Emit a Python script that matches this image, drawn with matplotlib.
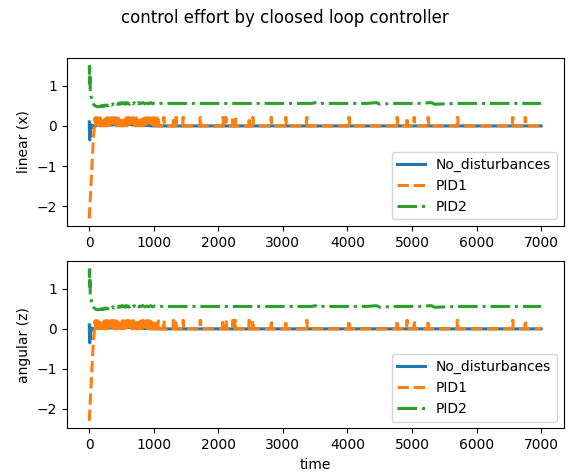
import numpy as np
import matplotlib
matplotlib.use("Agg")
import matplotlib.pyplot as plt

# ---------------- data ----------------
# No_disturbances (blue)
nd_t = [0, 4, 8, 12, 16, 20, 25, 30, 40, 50, 80, 120, 200, 300, 400, 450, 500, 550,
        600, 650, 700, 800, 900, 1000, 1200, 1500, 2000, 3000, 4000, 5000, 6000, 7000]
nd_v = [0.10, -0.30, -0.35, 0.05, -0.25, -0.10, 0.02, -0.05, 0.0, 0.01, 0.0, 0.01,
        0.02, 0.02, 0.03, 0.05, 0.03, 0.05, 0.04, 0.03, 0.02, 0.01, 0.01, 0.0, 0.0,
        0.0, 0.0, 0.0, 0.0, 0.0, 0.0, 0.0]

# PID1 (orange): initial ramp
pid1_ramp_t = [0, 10, 20, 30, 40, 50, 60, 70, 80]
pid1_ramp_v = [-2.30, -2.00, -1.68, -1.35, -1.02, -0.70, -0.42, -0.18, 0.0]
# PID1 dense oscillating segment (every 10 time units, 90..1090)
pid1_dense_t = list(range(90, 1100, 10))
pid1_dense_v = [0.20, 0.00, 0.20, 0.02, 0.20, 0.01, 0.19, 0.00, 0.20, 0.03,
                0.20, 0.00, 0.20, 0.02, 0.19, 0.00, 0.20, 0.01, 0.20, 0.00,
                0.20, 0.02, 0.19, 0.00, 0.20, 0.03, 0.20, 0.01, 0.20, 0.00,
                0.20, 0.02, 0.20, 0.00, 0.19, 0.01, 0.20, 0.03, 0.20, 0.00,
                0.20, 0.02, 0.20, 0.00, 0.20, 0.01, 0.19, 0.02, 0.20, 0.00,
                0.20, 0.03, 0.20, 0.00, 0.20, 0.02, 0.19, 0.00, 0.20, 0.01,
                0.20, 0.02, 0.19, 0.00, 0.20, 0.03, 0.20, 0.00, 0.20, 0.01,
                0.19, 0.02, 0.20, 0.00, 0.20, 0.01, 0.20, 0.03, 0.19, 0.00,
                0.20, 0.02, 0.20, 0.00, 0.20, 0.01, 0.19, 0.00, 0.20, 0.02,
                0.20, 0.00, 0.20, 0.01, 0.19, 0.00, 0.20, 0.02, 0.20, 0.00,
                0.00]
# PID1 isolated spikes after the dense segment
pid1_spike_t = [1150, 1300, 1340, 1450, 1716, 2066, 2112, 2221, 2257, 2473, 2530,
                2813, 3040, 3365, 4019, 4765, 4918, 5028, 5245, 5700, 6555, 6750]
pid1_spike_v = [0.21] * len(pid1_spike_t)
pid1_end_t = 7000

# PID2 (green)
pid2_t = [0, 3, 6, 9, 12, 15, 20, 25, 30, 40, 50, 60, 70, 85, 100, 120, 150, 180,
          200, 215, 230, 245, 260, 275, 290, 305, 320, 335, 350, 365, 380, 395,
          410, 425, 440, 455, 470, 485, 500, 515, 530, 545, 560, 575, 590, 605,
          620, 635, 650, 665, 680, 695, 710, 725, 740, 755, 770, 785, 800, 830,
          860, 890, 920, 950, 980, 1010, 1040, 1070, 1100, 1300, 1500, 1700, 2000,
          2300, 2700, 3100, 3450, 3500, 3550, 3600, 3900, 4300, 4450, 4500, 4700,
          5100, 5300, 5350, 5700, 6000, 6300, 6700, 7000]
pid2_v = [1.50, 1.30, 1.48, 1.05, 1.20, 0.85, 0.80, 0.75, 0.72, 0.64, 0.60, 0.56,
          0.53, 0.51, 0.49, 0.48, 0.48, 0.50,
          0.48, 0.51, 0.49, 0.52, 0.50, 0.52, 0.50, 0.53, 0.51, 0.54, 0.52, 0.55,
          0.52, 0.55, 0.53, 0.56, 0.54, 0.57, 0.54, 0.57, 0.55, 0.58, 0.55, 0.57,
          0.54, 0.58, 0.55, 0.57, 0.54, 0.58, 0.55, 0.57, 0.55, 0.58, 0.54, 0.57,
          0.55, 0.58, 0.55, 0.57, 0.56, 0.58, 0.55, 0.57, 0.55, 0.58, 0.55, 0.57,
          0.56, 0.55, 0.56, 0.56, 0.56, 0.56, 0.56, 0.56, 0.56, 0.56, 0.56, 0.58,
          0.54, 0.56, 0.56, 0.56, 0.58, 0.54, 0.56, 0.56, 0.58, 0.54, 0.56, 0.56,
          0.56, 0.56, 0.56]

x_ticks = [0, 1000, 2000, 3000, 4000, 5000, 6000, 7000]
y_ticks = [-2, -1, 0, 1]
labels = ["No_disturbances", "PID1", "PID2"]
ylabels = ["linear (x)", "angular (z)"]

# build PID1 full series from the read values
p1_t = list(pid1_ramp_t) + list(pid1_dense_t)
p1_v = list(pid1_ramp_v) + list(pid1_dense_v)
for st, sv in zip(pid1_spike_t, pid1_spike_v):
    p1_t += [st - 1, st, st + 10, st + 11]
    p1_v += [0.0, sv, sv, 0.0]
p1_t.append(pid1_end_t)
p1_v.append(0.0)

# ---------------- figure ----------------
fig = plt.figure(figsize=(5.7, 4.75), dpi=100)
fig.suptitle("control effort by cloosed loop controller", fontsize=12, y=0.982)

positions = [[0.117, 0.524, 0.872, 0.354], [0.117, 0.098, 0.872, 0.352]]
for i, pos in enumerate(positions):
    ax = fig.add_axes(pos)
    ax.plot(nd_t, nd_v, color="#1f77b4", lw=2.2, ls="-", label=labels[0])
    ax.plot(p1_t, p1_v, color="#ff7f0e", lw=2.2, ls="--", label=labels[1])
    ax.plot(pid2_t, pid2_v, color="#2ca02c", lw=2.2, ls="-.", label=labels[2])
    ax.set_xticks(x_ticks)
    ax.set_yticks(y_ticks)
    ax.set_ylabel(ylabels[i])
    ax.legend(loc="lower right")
    if i == 1:
        ax.set_xlabel("time")

fig.savefig("out.png", dpi=100)
